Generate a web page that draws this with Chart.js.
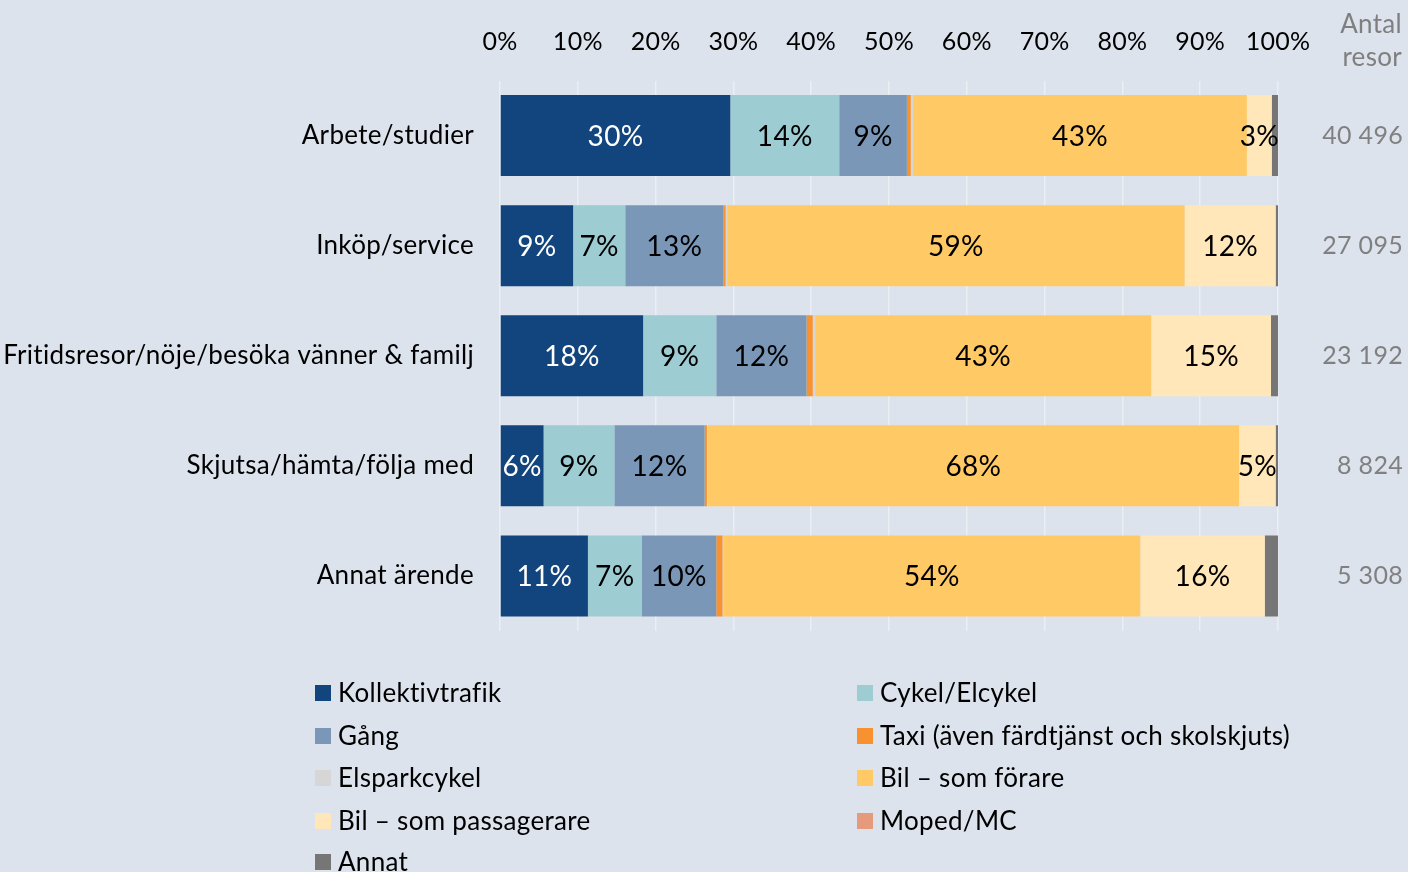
<!DOCTYPE html>
<html>
<head>
<meta charset="utf-8">
<script src="https://cdn.jsdelivr.net/npm/chart.js@4"></script>
<style>
  html, body { margin: 0; padding: 0; background: #DCE3ED; }
  #wrap { width: 1408px; height: 872px; position: relative; }
  canvas { display: block; }
</style>
</head>
<body>
<div id="wrap"><canvas id="c" width="1408" height="872"></canvas></div>
<script>
const categories = ['Arbete/studier', 'Inköp/service', 'Fritidsresor/nöje/besöka vänner & familj', 'Skjutsa/hämta/följa med', 'Annat ärende'];
const antalResor = ['40 496', '27 095', '23 192', '8 824', '5 308'];
const xTicks = [0, 10, 20, 30, 40, 50, 60, 70, 80, 90, 100];

const seriesNames = ['Kollektivtrafik', 'Cykel/Elcykel', 'Gång', 'Taxi (även färdtjänst och skolskjuts)', 'Elsparkcykel', 'Bil – som förare', 'Bil – som passagerare', 'Moped/MC', 'Annat'];
const seriesColors = ['#12457D', '#9DCCD2', '#7A97B8', '#F7922E', '#D6D6D6', '#FFCA66', '#FFE7B9', '#E59B7B', '#767676'];

const kollektivtrafik = [29.6, 9.4, 18.4, 5.6, 11.3];
const cykel = [14.0, 6.7, 9.4, 9.1, 6.9];
const gang = [8.7, 12.6, 11.6, 11.6, 9.6];
const taxi = [0.5, 0.3, 0.8, 0.3, 0.8];
const elsparkcykel = [0.3, 0.2, 0.3, 0.1, 0.1];
const bilForare = [42.9, 58.8, 43.2, 68.3, 53.6];
const bilPassagerare = [3.2, 11.7, 15.4, 4.7, 16.0];
const moped = [0, 0, 0, 0, 0];
const annat = [0.8, 0.3, 0.9, 0.3, 1.7];

const seriesValues = [kollektivtrafik, cykel, gang, taxi, elsparkcykel, bilForare, bilPassagerare, moped, annat];
const labelledSeries = [0, 1, 2, 5, 6];

const FONT = 'Lato';

const datasets = seriesNames.map((name, i) => ({
  label: name,
  data: seriesValues[i],
  backgroundColor: seriesColors[i],
  borderWidth: 0,
  barPercentage: 0.736,
  categoryPercentage: 1.0,
  stack: 's'
}));

const spacing = {
  id: 'spacing',
  beforeDraw(chart) { chart.ctx.letterSpacing = '0.3px'; }
};

const segLabels = {
  id: 'segLabels',
  afterDatasetsDraw(chart) {
    const ctx = chart.ctx;
    ctx.save();
    ctx.font = '28px ' + FONT;
    ctx.textAlign = 'center';
    ctx.textBaseline = 'middle';
    labelledSeries.forEach(di => {
      const meta = chart.getDatasetMeta(di);
      meta.data.forEach((bar, j) => {
        const v = chart.data.datasets[di].data[j];
        if (v < 2.5) return;
        const cx = (bar.x + bar.base) / 2;
        ctx.fillStyle = di === 0 ? '#FFFFFF' : '#000000';
        ctx.fillText(Math.round(v) + '%', cx, bar.y + 1);
      });
    });
    ctx.restore();
  }
};

const extras = {
  id: 'extras',
  afterDraw(chart) {
    const ctx = chart.ctx;
    ctx.save();
    ctx.font = '26px ' + FONT;
    ctx.fillStyle = '#7F7F7F';
    ctx.textAlign = 'right';
    ctx.textBaseline = 'middle';
    ctx.fillText('Antal', 1402, 25);
    ctx.fillText('resor', 1402, 58);
    const cols = [315, 857];
    const rows = [693, 736, 778, 821, 862];
    ctx.textAlign = 'left';
    chart.data.datasets.forEach((ds, i) => {
      const x = cols[i % 2];
      const y = rows[Math.floor(i / 2)];
      ctx.fillStyle = ds.backgroundColor;
      ctx.fillRect(x, y - 8, 16, 16);
      ctx.fillStyle = '#000';
      ctx.fillText(ds.label, x + 23, y + 1);
    });
    ctx.restore();
  }
};

new Chart(document.getElementById('c'), {
  type: 'bar',
  data: { labels: categories, datasets },
  plugins: [spacing, segLabels, extras],
  options: {
    indexAxis: 'y',
    responsive: false,
    animation: false,
    layout: { padding: { top: 0, right: 5, bottom: 241, left: 0 } },
    plugins: { legend: { display: false }, tooltip: { enabled: false } },
    scales: {
      x: {
        position: 'top',
        stacked: true,
        min: 0, max: 100,
        afterBuildTicks(s) { s.ticks = xTicks.map(v => ({ value: v })); },
        afterFit(s) { s.height = 80.5; },
        border: { display: false },
        grid: { color: '#EBEEF3', lineWidth: 1.5, drawTicks: false },
        ticks: {
          color: '#000',
          font: { family: FONT, size: 25 },
          padding: 24,
          callback: v => v + '%'
        }
      },
      y: {
        stacked: true,
        afterFit(s) { s.width = 500; },
        border: { display: false },
        grid: { display: false, drawTicks: false },
        ticks: { color: '#000', font: { family: FONT, size: 26 }, padding: 26 }
      },
      y2: {
        type: 'category',
        position: 'right',
        labels: antalResor,
        offset: true,
        afterFit(s) { s.width = 125; },
        border: { display: false },
        grid: { display: false, drawTicks: false },
        ticks: { color: '#808080', font: { family: FONT, size: 25 }, crossAlign: 'far', padding: 0 }
      }
    }
  }
});
</script>
</body>
</html>
